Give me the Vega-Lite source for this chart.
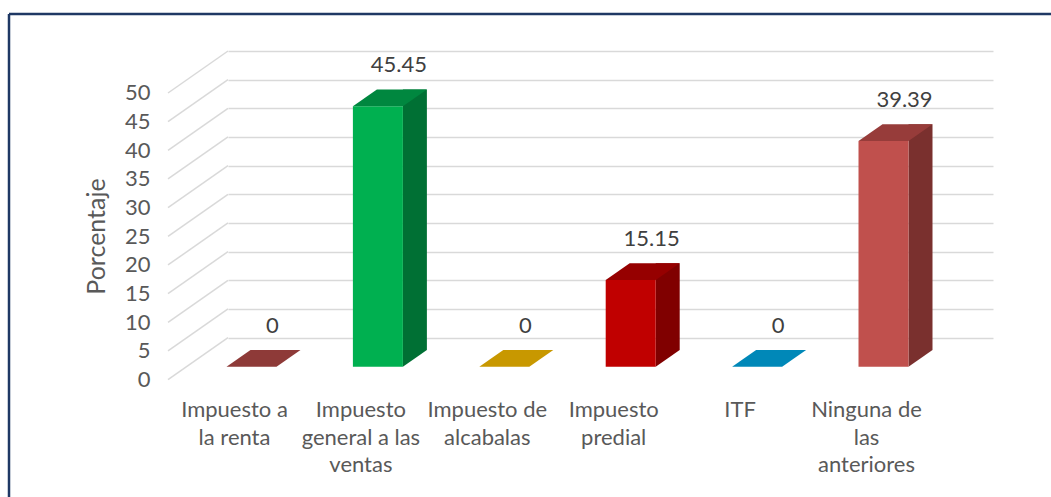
{
  "$schema": "https://vega.github.io/schema/vega-lite/v6.json",
  "autosize": {"type": "none"},
  "width": 765,
  "height": 286.6,
  "padding": {"left": 228, "top": 51, "right": 58, "bottom": 159},
  "background": "white",
  "config": {
    "view": {"stroke": null},
    "font": "Lato",
    "axisY": {"labelOverlap": false, "tickCount": 11},
    "axisX": {"labelOverlap": false}
  },
  "datasets": {
    "bars": [
      {"categoria": "Impuesto a\nla renta", "porcentaje": 0},
      {"categoria": "Impuesto\ngeneral a las\nventas", "porcentaje": 45.45},
      {"categoria": "Impuesto de\nalcabalas", "porcentaje": 0},
      {"categoria": "Impuesto\npredial", "porcentaje": 15.15},
      {"categoria": "ITF", "porcentaje": 0},
      {"categoria": "Ninguna de\nlas\nanteriores", "porcentaje": 39.39}
    ],
    "ticks": [
      {"v": 0}, {"v": 5}, {"v": 10}, {"v": 15}, {"v": 20}, {"v": 25},
      {"v": 30}, {"v": 35}, {"v": 40}, {"v": 45}, {"v": 50}
    ]
  },
  "resolve": {"scale": {"color": "independent"}},
  "layer": [
    {
      "data": {"name": "ticks"},
      "mark": {"type": "rule", "color": "#D9D9D9", "strokeWidth": 1.5, "yOffset": 42},
      "encoding": {
        "x": {"value": -60},
        "x2": {"value": 0},
        "y": {"field": "v", "type": "quantitative", "scale": {"domain": [0, 50], "nice": false, "zero": true},
          "axis": {"title": "Porcentaje", "orient": "left", "offset": 60, "values": [0, 5, 10, 15, 20, 25, 30, 35, 40, 45, 50],
            "tickCount": 11, "ticks": false, "domain": false, "grid": true, "gridColor": "#D9D9D9", "gridWidth": 1.5,
            "labelOffset": 42, "labelPadding": 18, "labelFontSize": 22, "labelColor": "#595959", "labelFont": "Lato",
            "labelOverlap": false, "labelBound": false, "labelFlush": false,
            "titleFontSize": 25, "titleColor": "#595959", "titleFontWeight": "normal", "titleFont": "Lato",
            "titleX": -64, "titleY": 185, "titleAngle": -90, "titleBaseline": "alphabetic", "titleAlign": "center"}},
        "y2": {"field": "v"}
      }
    },
    {
      "data": {"values": [{}]},
      "mark": {"type": "rule", "color": "#1F3864", "strokeWidth": 2.5},
      "encoding": {"x": {"value": -219}, "y": {"value": -37}, "y2": {"value": 446}}
    },
    {
      "data": {"values": [{}]},
      "mark": {"type": "rule", "color": "#1F3864", "strokeWidth": 2.5},
      "encoding": {"x": {"value": -219}, "x2": {"value": 823}, "y": {"value": -37}}
    },
    {
      "data": {"name": "bars"},
      "mark": {"type": "bar", "width": 24, "xOffset": -6, "yOffset": 12.5, "y2Offset": 12.5},
      "encoding": {
        "x": {"field": "categoria", "type": "nominal", "sort": null,
          "scale": {"paddingInner": 0, "paddingOuter": 0.026},
          "axis": {"title": null, "orient": "bottom", "offset": 62, "labelOffset": -60, "ticks": false, "domain": false,
            "grid": false, "labelPadding": 0, "labelBaseline": "top", "labelFontSize": 22, "labelColor": "#595959",
            "labelFont": "Lato", "labelLineHeight": 27.7, "labelExpr": "split(datum.label, '\\n')", "labelAngle": 0,
            "labelOverlap": false, "labelBound": false, "labelLimit": 0}},
        "y": {"field": "porcentaje", "type": "quantitative"},
        "y2": {"datum": 0},
        "color": {"field": "categoria", "type": "nominal", "legend": null,
          "scale": {"domain": ["Impuesto a\nla renta", "Impuesto\ngeneral a las\nventas", "Impuesto de\nalcabalas", "Impuesto\npredial", "ITF", "Ninguna de\nlas\nanteriores"],
            "range": ["#6E2A28", "#007034", "#A07A00", "#800000", "#00789F", "#7A302E"]}}
      }
    },
    {
      "data": {"name": "bars"},
      "transform": [{"filter": "datum.porcentaje > 0"}],
      "mark": {"type": "point", "shape": "M -0.36 0.25 L -0.36 0.584 L 0.12 0.25 Z", "size": 10000, "filled": true, "opacity": 1, "strokeWidth": 0},
      "encoding": {
        "x": {"field": "categoria", "type": "nominal", "sort": null},
        "y": {"datum": 0, "type": "quantitative"},
        "color": {"field": "categoria", "type": "nominal", "legend": null,
          "scale": {"domain": ["Impuesto a\nla renta", "Impuesto\ngeneral a las\nventas", "Impuesto de\nalcabalas", "Impuesto\npredial", "ITF", "Ninguna de\nlas\nanteriores"],
            "range": ["#6E2A28", "#007034", "#A07A00", "#800000", "#00789F", "#7A302E"]}}
      }
    },
    {
      "data": {"name": "bars"},
      "mark": {"type": "bar", "width": 50, "xOffset": -43, "yOffset": 29.2, "y2Offset": 29.2},
      "encoding": {
        "x": {"field": "categoria", "type": "nominal", "sort": null},
        "y": {"field": "porcentaje", "type": "quantitative"},
        "y2": {"datum": 0},
        "color": {"field": "categoria", "type": "nominal", "legend": null,
          "scale": {"domain": ["Impuesto a\nla renta", "Impuesto\ngeneral a las\nventas", "Impuesto de\nalcabalas", "Impuesto\npredial", "ITF", "Ninguna de\nlas\nanteriores"],
            "range": ["#B8443F", "#00B050", "#FFC000", "#C00000", "#00B0F0", "#C0504D"]}}
      }
    },
    {
      "data": {"name": "bars"},
      "mark": {"type": "point", "shape": "M -1.36 0.584 L -0.36 0.584 L 0.12 0.25 L -0.88 0.25 Z", "size": 10000, "filled": true, "opacity": 1, "strokeWidth": 0},
      "encoding": {
        "x": {"field": "categoria", "type": "nominal", "sort": null},
        "y": {"field": "porcentaje", "type": "quantitative"},
        "color": {"field": "categoria", "type": "nominal", "legend": null,
          "scale": {"domain": ["Impuesto a\nla renta", "Impuesto\ngeneral a las\nventas", "Impuesto de\nalcabalas", "Impuesto\npredial", "ITF", "Ninguna de\nlas\nanteriores"],
            "range": ["#8E3A38", "#00873F", "#C89800", "#960000", "#0088B8", "#973C3A"]}}
      }
    },
    {
      "data": {"name": "bars"},
      "mark": {"type": "text", "dx": -22, "dy": -12, "fontSize": 22, "color": "#404040", "font": "Lato", "baseline": "middle", "align": "center"},
      "encoding": {
        "x": {"field": "categoria", "type": "nominal", "sort": null},
        "y": {"field": "porcentaje", "type": "quantitative"},
        "text": {"field": "porcentaje", "type": "quantitative"}
      }
    }
  ]
}
